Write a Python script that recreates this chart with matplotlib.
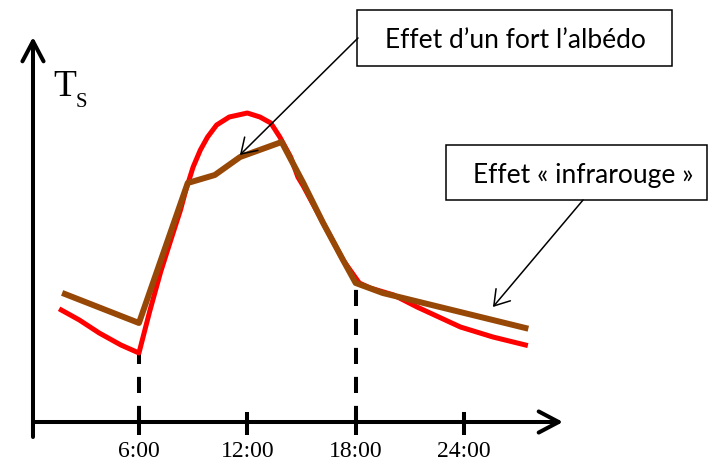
import matplotlib.pyplot as plt
from matplotlib.patches import Rectangle

# daily surface temperature, hours vs arbitrary temperature units
red_hours = [1.7, 2.7, 3.8, 5.0, 6.0, 6.6, 7.2, 7.8, 8.3, 8.6, 9.0, 9.4, 9.8, 10.3,
             11.0, 12.0, 12.7, 13.3, 13.8, 14.4, 14.8, 15.1, 16.2, 17.3, 18.2,
             18.8, 20.1, 21.4, 23.8, 25.6, 27.4]
red_temp = [11.2, 10.2, 8.9, 7.7, 6.9, 11.1, 15.0, 18.4, 21.2, 23.2, 25.5, 27.2, 28.5, 29.7,
            30.5, 30.9, 30.5, 29.9, 28.5, 26.5, 24.5, 23.6, 19.9, 16.2, 13.9,
            13.4, 12.7, 11.5, 9.5, 8.5, 7.7]

brown_hours = [1.9, 6.0, 8.7, 10.2, 11.6, 13.9, 15.1, 16.2, 17.3, 18.0, 19.5, 27.4]
brown_temp = [12.8, 9.9, 23.9, 24.7, 26.5, 28.0, 23.9, 19.9, 16.2, 13.9, 12.9, 9.4]

tick_hours = [6, 12, 18, 24]
tick_labels = ['6:00', '12:00', '18:00', '24:00']

dash_hours = [6, 18]
dash_tops = [min(red_temp), brown_temp[brown_hours.index(18.0)]]

label_albedo = 'Effet d\u2019un fort l\u2019albédo'
label_ir = 'Effet « infrarouge »'

RED = '#FF0000'
BROWN = '#974806'
SERIF = 'Liberation Serif'
SANS = 'Lato'

fig = plt.figure(figsize=(7.1, 4.62), dpi=100)
ax = fig.add_axes([0, 0, 1, 1])
ax.set_xlim(-1.694, 37.62)
ax.set_ylim(-4.0, 42.2)
ax.axis('off')

# hand-drawn style axes with open arrow heads
axis_arrow = dict(arrowstyle='->, head_length=0.72, head_width=0.38',
                  lw=2.9, color='black', mutation_scale=20,
                  shrinkA=0, shrinkB=0)
ax.annotate('', xy=(0.133, 38.5), xytext=(0.133, -1.5), arrowprops=axis_arrow)
ax.annotate('', xy=(29.48, 0), xytext=(0.133, 0), arrowprops=axis_arrow)

for h, lab in zip(tick_hours, tick_labels):
    ax.plot([h, h], [1.0, -1.3], color='black', lw=2.9, solid_capstyle='butt')
    ax.text(h, -3.5, lab, ha='center', va='baseline', fontsize=17, family=SERIF)

for h, top in zip(dash_hours, dash_tops):
    ax.plot([h, h], [0, top], color='black', lw=2.9, dashes=(4.0, 3.2), zorder=1)

ax.plot(red_hours, red_temp, color=RED, lw=3.6, zorder=2, solid_joinstyle='round')
ax.plot(brown_hours, brown_temp, color=BROWN, lw=4.3, zorder=3)

# y axis label T_S
ax.text(1.25, 32.6, 'T', fontsize=27, family=SERIF, va='baseline')
ax.text(2.5, 31.5, 'S', fontsize=15, family=SERIF, va='baseline')

# annotation boxes
ax.add_patch(Rectangle((18.08, 35.6), 35.52 - 18.08, 41.2 - 35.6,
                       fill=False, lw=1.1, ec='black', zorder=5))
ax.text(26.82, 37.4, label_albedo, ha='center', va='baseline',
        fontsize=19, family=SANS, zorder=6)
ax.add_patch(Rectangle((23.0, 22.2), 37.45 - 23.0, 27.7 - 22.2,
                       fill=False, lw=1.1, ec='black', zorder=5))
ax.text(30.59, 23.9, label_ir, ha='center', va='baseline',
        fontsize=19, family=SANS, zorder=6)

pointer = dict(arrowstyle='->, head_length=0.7, head_width=0.45',
               lw=1.1, color='black', mutation_scale=15,
               shrinkA=0, shrinkB=0)
ax.annotate('', xy=(11.59, 26.7), xytext=(18.13, 38.4), arrowprops=pointer, zorder=7)
ax.annotate('', xy=(25.6, 11.5), xytext=(30.59, 22.2), arrowprops=pointer, zorder=7)

fig.savefig('out.png', dpi=100)
